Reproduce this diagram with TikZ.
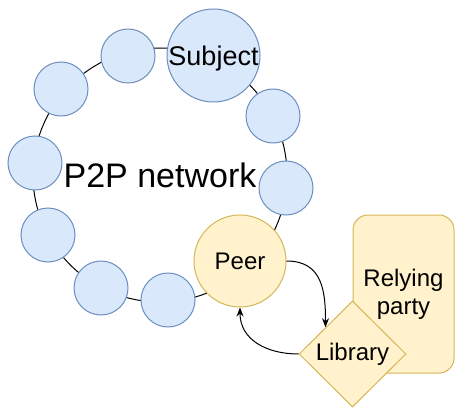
\documentclass[tikz,border=0pt]{standalone}
\usepackage{fontspec}
\setmainfont{Liberation Sans}
\usetikzlibrary{shapes.geometric,arrows.meta}
\tikzset{>={Stealth[length=9pt,width=7pt]}}
\definecolor{blfill}{HTML}{DAE8FC}
\definecolor{bldraw}{HTML}{6C8EBF}
\definecolor{ylfill}{HTML}{FFF2CC}
\definecolor{yldraw}{HTML}{D6B656}
\tikzset{
  member/.style={circle,draw=bldraw,fill=blfill,line width=1pt,
    minimum size=54pt,inner sep=0pt},
  yellow/.style={draw=yldraw,fill=ylfill,line width=1pt,inner sep=0pt}
}
\newcommand*{\member}[2]
  {\node[member] (#1) at (#2) {}}

\begin{document}
\begin{tikzpicture}[x=1pt,y=1pt,line width=1pt]
\useasboundingbox (0,0) rectangle (455,-409);
\draw (160,-175) circle (127pt);
\node[anchor=base,font=\fontsize{34}{40}\selectfont] (net) at (160,-187) {P2P network};
\member{m1}{128,-56};
\member{m2}{61,-89};
\member{m3}{35,-163};
\member{m4}{48,-235};
\member{m5}{101,-288};
\member{m6}{168,-300};
\member{m7}{286,-188};
\member{m8}{273,-116};
\node[member,minimum size=93pt,text depth=0pt,font=\fontsize{27}{31}\selectfont] (subj) at (213.5,-55.5) {Subject};
\node[yellow,circle,minimum size=92pt,font=\fontsize{24}{28}\selectfont] (peer) at (240,-261) {Peer};
\node[yellow,rounded corners=15pt,minimum width=101pt,minimum height=158pt,
  align=center,font=\fontsize{24}{28}\selectfont] (rp) at (403.5,-294) {Relying\\party};
\node[yellow,diamond,minimum width=107pt,minimum height=106pt,
  font=\fontsize{24}{28}\selectfont] (lib) at (352.5,-354) {Library};
\draw[->] (peer.east) to[out=0,in=90,looseness=1.2] (lib.north west);
\draw[->] (lib.west) to[out=180,in=-90,looseness=1.1] (peer.south);
\end{tikzpicture}
\end{document}
